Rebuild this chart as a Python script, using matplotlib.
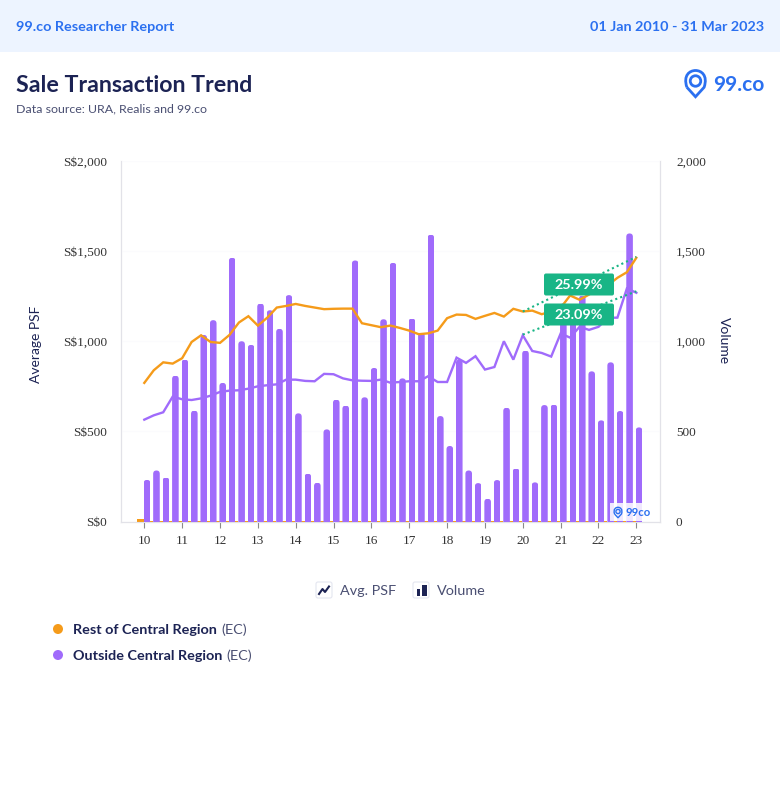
import matplotlib
matplotlib.use("Agg")
import matplotlib.pyplot as plt
import numpy as np
from matplotlib.patches import Circle, FancyBboxPatch, PathPatch, Rectangle
from matplotlib.path import Path

W, H = 780, 800
ORANGE = "#f59b1a"
PURPLE = "#a06bfb"
GREEN = "#19b586"
BLUE = "#2b70f0"
NAVY = "#1c2354"
GREY = "#4a4f72"

year_labels = ["10", "11", "12", "13", "14", "15", "16", "17", "18", "19", "20", "21", "22", "23"]

psf_rest = [769, 839, 883, 876, 906, 996, 1033, 996, 991, 1035, 1104, 1139, 1087, 1131,
            1187, 1196, 1207, 1196, 1187, 1178, 1180, 1181, 1181, 1100, 1089, 1078, 1087,
            1074, 1059, 1039, 1044, 1059, 1128, 1148, 1146, 1124, 1141, 1157, 1137, 1180,
            1165, 1170, 1150, 1165, 1185, 1254, 1230, 1259, 1296, 1311, 1352, 1383, 1463]
psf_outside = [565, 589, 606, 693, 678, 674, 683, 698, 719, 726, 728, 737, 750, 756,
               761, 787, 787, 780, 778, 819, 817, 794, 783, 781, 780, 787, 770,
               774, 778, 778, 806, 774, 774, 909, 880, 917, 843, 857, 1000, 898,
               1033, 946, 935, 915, 1043, 1020, 1080, 1063, 1080, 1130, 1131, 1293, 1269]
vol_outside = [231, 283, 244, 809, 898, 615, 1035, 1117, 769, 1463, 1000, 980, 1209, 1172,
               1069, 1256, 600, 265, 215, 511, 676, 643, 1448, 689, 852, 1122, 1435,
               794, 1126, 1048, 1591, 585, 419, 898, 283, 213, 126, 230, 631, 294,
               948, 217, 646, 648, 1210, 1150, 1253, 833, 561, 883, 613, 1598, 522]
vol_rest = [14, 4, 3, 4, 3, 5, 3, 4, 3, 4, 3, 5, 3, 4, 3, 3, 4, 3, 5, 4, 3, 4, 4, 3, 5, 3, 3,
            4, 3, 5, 3, 4, 3, 3, 5, 3, 3, 4, 3, 4, 3, 5, 3, 4, 4, 3, 5, 3, 4, 3, 3, 4, 3]

rest_start, rest_end = 1165, 1468
outside_start, outside_end = 1037, 1277
rest_growth = "25.99%"
outside_growth = "23.09%"

plt.rcParams["font.family"] = ["Lato", "DejaVu Sans"]
fig = plt.figure(figsize=(W / 100, H / 100), dpi=100, facecolor="white")


def px_axes(x0, y0, x1, y1):
    return [x0 / W, 1 - y1 / H, (x1 - x0) / W, (y1 - y0) / H]


# page furniture lives on a pixel-coordinate overlay
bg = fig.add_axes([0, 0, 1, 1], zorder=0)
bg.set_xlim(0, W)
bg.set_ylim(H, 0)
bg.axis("off")
bg.add_patch(Rectangle((0, 0), W, 52, color="#edf4ff", lw=0))
bg.text(16, 27, "99.co Researcher Report", color=BLUE, fontsize=10.4, fontweight="bold", va="center")
bg.text(764, 27, "01 Jan 2010 - 31 Mar 2023", color=BLUE, fontsize=10.4, fontweight="bold",
        va="center", ha="right")
bg.text(16, 85.5, "Sale Transaction Trend", color=NAVY, fontsize=16.7, fontweight="bold", va="center")
bg.text(16, 109, "Data source: URA, Realis and 99.co", color=GREY, fontsize=8.9, va="center")


def draw_pin(ax, cx, cy, r, lw, zorder=5):
    # teardrop outline plus inner ring, the 99.co marker
    k = 0.55
    tip = cy + 1.5 * r
    verts = [(cx - 0.82 * r, cy + 0.6 * r), (cx - r * 1.2, cy - r * k), (cx - r * k, cy - r), (cx, cy - r),
             (cx + r * k, cy - r), (cx + r * 1.2, cy - r * k), (cx + 0.82 * r, cy + 0.6 * r),
             (cx, tip), (cx - 0.82 * r, cy + 0.6 * r)]
    codes = [Path.MOVETO, Path.CURVE4, Path.CURVE4, Path.CURVE4, Path.CURVE4, Path.CURVE4, Path.CURVE4,
             Path.LINETO, Path.LINETO]
    ax.add_patch(PathPatch(Path(verts, codes), fc="none", ec=BLUE, lw=lw, zorder=zorder))
    ax.add_patch(Circle((cx, cy), 0.5 * r, fc="none", ec=BLUE, lw=lw, zorder=zorder))


# main chart
ax = fig.add_axes(px_axes(120.5, 161, 660, 521.5), zorder=1)
ax.patch.set_alpha(0)
xlim = (-2.516, 54.5)
ax.set_xlim(*xlim)
ax.set_ylim(0, 2000)
ax2 = ax.twinx()
ax2.set_ylim(0, 2000)
ax2.set_zorder(0)
ax.set_zorder(2)

x = np.arange(len(psf_rest))
px_x = 539.5 / (xlim[1] - xlim[0])
px_y = 360.5 / 2000
bar_w = 6.6 / px_x
purple_off = 2.7 / px_x
orange_off = -3.8 / px_x

ax.set_yticks([500, 1000, 1500, 2000])
ax.grid(axis="y", color="#fbfbfd", lw=0.8)
ax.set_axisbelow(True)

ax.bar(x + orange_off, vol_rest, width=bar_w, color=ORANGE, lw=0, zorder=2)
bars = ax.bar(x + purple_off, vol_outside, width=bar_w, color=PURPLE, lw=0, zorder=3)

# round the top of each bar with a clip shape
r = 3.3 / px_x
aspect = px_x / px_y
for rect in bars:
    clip = FancyBboxPatch((rect.get_x() + r, -100), bar_w - 2 * r, rect.get_height() + 100 - r * aspect,
                          boxstyle=f"round,pad={r},rounding_size={r}",
                          mutation_aspect=aspect, transform=ax.transData)
    rect.set_clip_path(clip)

ax.plot(x, psf_outside, color=PURPLE, lw=1.7, zorder=4, solid_joinstyle="miter")
ax.plot(x, psf_rest, color=ORANGE, lw=1.7, zorder=5, solid_joinstyle="miter")

# growth guides between 2020 and 2023
ax.plot([40, 52], [rest_start, rest_end], color=GREEN, lw=1.5, ls=(0, (1, 1.5)), zorder=6)
ax.plot([40, 52], [outside_start, outside_end], color=GREEN, lw=1.5, ls=(0, (1, 1.5)), zorder=6)

ax.set_xticks(x[::4])
ax.set_xticklabels(year_labels, family="Liberation Serif", fontsize=9.5, color="#333333")
ax.set_yticks([0, 500, 1000, 1500, 2000])
ax.set_yticklabels(["S$0", "S$500", "S$1,000", "S$1,500", "S$2,000"], family="Liberation Serif",
                   fontsize=9.5, color="#333333")
ax.tick_params(axis="x", length=4.5, width=0.8, color="#8a8a8a", pad=5)
ax.tick_params(axis="y", length=0, pad=9.5)
ax2.set_yticks([0, 500, 1000, 1500, 2000])
ax2.set_yticklabels(["0", "500", "1,000", "1,500", "2,000"], family="Liberation Serif",
                    fontsize=9.5, color="#333333")
ax2.tick_params(axis="y", length=0, pad=11.5)
for a in (ax, ax2):
    a.spines["top"].set_visible(False)
    for side in ("left", "right", "bottom"):
        a.spines[side].set_color("#e2e2e8")
        a.spines[side].set_linewidth(0.8)

# overlay for things on top of the chart
fg = fig.add_axes([0, 0, 1, 1], zorder=3)
fg.set_xlim(0, W)
fg.set_ylim(H, 0)
fg.axis("off")
fg.patch.set_alpha(0)

fg.text(36, 344, "Average PSF", rotation=90, color=NAVY, fontsize=10, ha="center", va="center")
fg.text(724, 341, "Volume", rotation=-90, color=NAVY, fontsize=10, ha="center", va="center")

for y0, label in [(273.5, rest_growth), (303.5, outside_growth)]:
    fg.add_patch(FancyBboxPatch((546, y0 + 2), 66, 18, boxstyle="round,pad=2,rounding_size=2",
                                fc=GREEN, ec="none", zorder=6))
    fg.text(579, y0 + 11.5, label, color="white", fontsize=10.4, fontweight="bold",
            ha="center", va="center", zorder=7)

# logos
draw_pin(fg, 695.5, 81, 10.5, 2.0)
fg.text(713, 85, "99.co", color=BLUE, fontsize=15, fontweight="bold", va="center")
fg.add_patch(Rectangle((610, 503), 42, 18, fc="white", ec="none", alpha=0.85, zorder=4))
draw_pin(fg, 618, 511.5, 4.2, 1.0, zorder=5)
fg.text(626, 512.5, "99co", color=BLUE, fontsize=8.2, fontweight="bold", va="center", zorder=5)

# chart type toggles
for x0 in (316, 413):
    fg.add_patch(FancyBboxPatch((x0 + 1, 583), 14, 14, boxstyle="round,pad=1,rounding_size=2",
                                fc="white", ec="#e4e6f0", lw=0.8))
fg.plot([319, 322.5, 325, 329], [594, 589, 592, 586.5], color=NAVY, lw=1.5)
fg.add_patch(Rectangle((416.5, 589), 3.5, 6.5, fc=NAVY, ec="none"))
fg.add_patch(Rectangle((422, 585), 4.5, 10.5, fc=NAVY, ec="none"))
fg.text(340, 591, "Avg. PSF", color=GREY, fontsize=10.4, va="center")
fg.text(437, 591, "Volume", color=GREY, fontsize=10.4, va="center")

# series legend
renderer = fig.canvas.get_renderer()
for y0, color, name in [(630, ORANGE, "Rest of Central Region"), (656, PURPLE, "Outside Central Region")]:
    fg.add_patch(Circle((58, y0 - 1), 5, fc=color, ec="none"))
    t = fg.text(73, y0, name, color=NAVY, fontsize=10.4, fontweight="bold", va="center")
    right = t.get_window_extent(renderer).x1
    fg.text(right + 4, y0, "(EC)", color=GREY, fontsize=10.4, va="center")

fig.savefig("out.png", dpi=100)
